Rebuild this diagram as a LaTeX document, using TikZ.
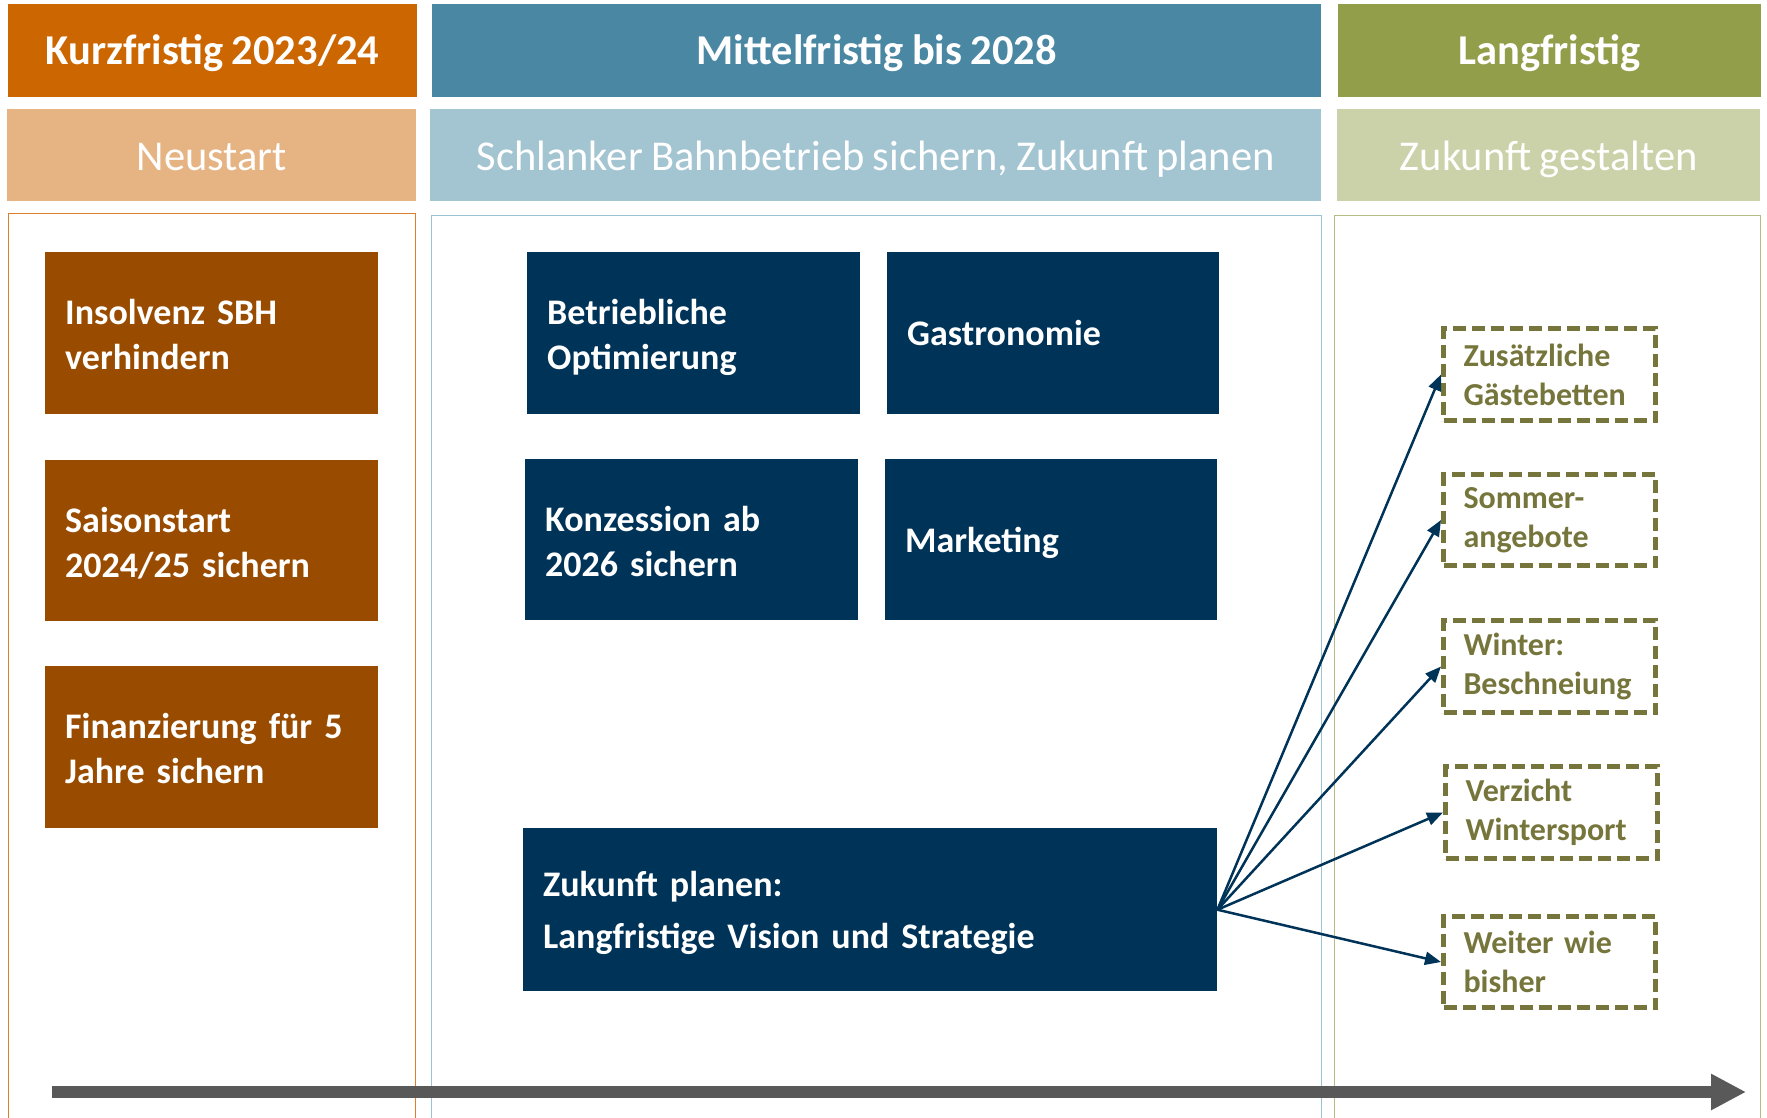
\documentclass[tikz,border=0pt]{standalone}
\usepackage{fontspec}
\setmainfont{Carlito}[WordSpace=0.85]
\usetikzlibrary{arrows.meta}
\definecolor{kor}{HTML}{CC6600}
\definecolor{klt}{HTML}{E6B383}
\definecolor{kbr}{HTML}{994C00}
\definecolor{kln}{HTML}{DE7E2E}
\definecolor{mbl}{HTML}{4A87A3}
\definecolor{mlt}{HTML}{A3C4D1}
\definecolor{mln}{HTML}{9CC2D6}
\definecolor{nav}{HTML}{003358}
\definecolor{lgr}{HTML}{939E4B}
\definecolor{llt}{HTML}{CBD1A8}
\definecolor{lln}{HTML}{B5BD85}
\definecolor{oli}{HTML}{76763C}
\definecolor{tgray}{HTML}{595959}
\tikzset{
  hdr/.style={anchor=north west, inner sep=0pt, text=white, font=\fontsize{42.5}{50}\selectfont\bfseries, minimum height=93pt, text height=33pt, text depth=5pt},
  subband/.style={anchor=north west, inner sep=0pt, text=white, font=\fontsize{42.5}{50}\selectfont, minimum height=92pt, text height=34pt, text depth=4pt},
  outer/.style={anchor=north west, inner sep=0pt, line width=1.2pt, fill=white},
  tbox/.style={anchor=north west, inner xsep=20pt, inner ysep=0pt, text=white, align=left, text height=27pt, text depth=44pt, font=\fontsize{36}{45}\selectfont\bfseries},
  oneline/.style={text height=25pt, text depth=0pt},
  kbox/.style={tbox, fill=kbr, text width=293pt, minimum height=162pt},
  nbox/.style={tbox, fill=nav, text width=293pt, minimum height=162pt},
  dbox/.style={anchor=north west, inner xsep=20pt, inner ysep=0pt, align=left, text=oli, draw=oli, line width=5pt, dash pattern=on 13pt off 6pt, text width=172pt, minimum height=92pt, font=\fontsize{32}{39}\selectfont\bfseries},
  conn/.style={draw=nav, line width=2.5pt, -{Triangle[length=16pt,width=13pt]}},
  timeline/.style={draw=tgray, line width=12pt, -{Triangle[length=35pt,width=34pt]}}
}
\begin{document}
\begin{tikzpicture}[x=1pt,y=-1pt]
\useasboundingbox (0,0) rectangle (1767,1118);
\begin{scope}
\clip (0,0) rectangle (1767,1118);
% headers
\node[hdr, fill=kor, minimum width=409pt] (h1) at (8,4) {Kurzfristig 2023/24};
\node[hdr, fill=mbl, minimum width=889pt] (h2) at (432,4) {Mittelfristig bis 2028};
\node[hdr, fill=lgr, minimum width=423pt] (h3) at (1338,4) {Langfristig};
% sub bands
\node[subband, fill=klt, minimum width=409pt] (s1) at (7,109) {Neustart};
\node[subband, fill=mlt, minimum width=891pt] (s2) at (430,109) {Schlanker Bahnbetrieb sichern, Zukunft planen};
\node[subband, fill=llt, minimum width=423pt] (s3) at (1337,109) {Zukunft gestalten};
% outer columns
\node[outer, draw=kln, minimum width=407pt, minimum height=950pt] (o1) at (8,213) {};
\node[outer, draw=mln, minimum width=890pt, minimum height=950pt] (o2) at (431,215) {};
\node[outer, draw=lln, minimum width=426pt, minimum height=950pt] (o3) at (1334,215) {};
% short-term boxes
\node[kbox] (b1) at (45,252) {Insolvenz SBH\\verhindern};
\node[kbox, minimum height=161pt] (b2) at (45,460) {Saisonstart\\2024/25 sichern};
\node[kbox] (b3) at (45,666) {Finanzierung für 5\\Jahre sichern};
% mid-term boxes
\node[nbox] (n1) at (527,252) {Betriebliche\\Optimierung};
\node[nbox, oneline, text width=292pt] (n2) at (887,252) {Gastronomie};
\node[nbox, minimum height=161pt] (n3) at (525,459) {Konzession ab\\2026 sichern};
\node[nbox, oneline, text width=292pt, minimum height=161pt] (n4) at (885,459) {Marketing};
\node[nbox, text width=654pt, minimum height=163pt, text height=27pt, text depth=53pt, font=\fontsize{36}{52}\selectfont\bfseries] (n5) at (523,828) {Zukunft planen:\\Langfristige Vision und Strategie};
% long-term options
\node[dbox] (d1) at (1441,326) {Zusätzliche\\Gästebetten};
\node[dbox, minimum height=91pt] (d2) at (1441,472) {Sommer-\\angebote};
\node[dbox] (d3) at (1441,618) {Winter:\\Beschneiung};
\node[dbox] (d4) at (1443,764) {Verzicht\\Wintersport};
\node[dbox, minimum height=91pt] (d5) at (1441,914) {Weiter wie\\bisher};
% connectors
\draw[conn] (n5.east) -- (d1.west);
\draw[conn] (n5.east) -- (d2.west);
\draw[conn] (n5.east) -- (d3.west);
\draw[conn] (n5.east) -- (d4.west);
\draw[conn] (n5.east) -- (d5.west);
% timeline
\coordinate (t0) at (52,1092);
\coordinate (t1) at (1746,1092);
\draw[timeline] (t0) -- (t1);
\end{scope}
\end{tikzpicture}
\end{document}
